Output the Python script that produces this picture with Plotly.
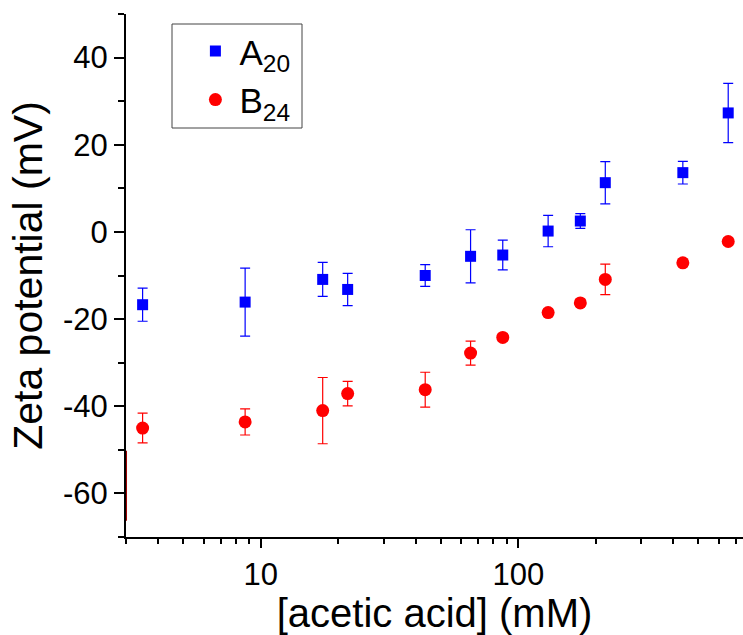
import plotly.graph_objects as go

# acetic acid concentration (mM)
conc_mM = [3.48, 8.7, 17.4, 21.75, 43.5, 65.25, 87, 130.5, 174, 217.5, 435, 652.5]

# zeta potential (mV) and standard deviations
zeta_A20 = [-16.7, -16.1, -10.9, -13.2, -10.0, -5.6, -5.3, 0.2, 2.5, 11.3, 13.6, 27.3]
err_A20 = [3.8, 7.8, 3.9, 3.7, 2.5, 6.1, 3.4, 3.6, 1.7, 4.85, 2.6, 6.8]

zeta_B24 = [-45.0, -43.6, -41.0, -37.1, -36.2, -27.8, -24.2, -18.5, -16.3, -10.9, -7.1, -2.2]
err_B24 = [3.4, 3.0, 7.6, 2.8, 4.0, 2.75, 0.8, 0.8, 0.8, 3.5, 0.8, 0.8]

# clipped error bar remnant at the lower x limit
clip_x = [3, 3]
clip_y = [-50.2, -66.3]

y_tickvals = [-60, -40, -20, 0, 20, 40]
y_ticktext = ["-60", "-40", "-20", "0", "20", "40"]
x_tickvals = [10, 100]
x_ticktext = ["10", "100"]
x_minor = [3, 4, 5, 6, 7, 8, 9, 20, 30, 40, 50, 60, 70, 80, 90, 200, 300, 400, 500, 600, 700]

FONT = "Arial, Liberation Sans, sans-serif"
BLUE = "#0000ff"
RED = "#ff0000"

fig = go.Figure()

fig.add_trace(go.Scatter(
    x=conc_mM, y=zeta_A20, mode="markers",
    name="A<sub>20</sub>",
    marker=dict(symbol="square", size=11, color=BLUE),
    error_y=dict(type="data", array=err_A20, color=BLUE, thickness=1.2, width=5),
))
fig.add_trace(go.Scatter(
    x=conc_mM, y=zeta_B24, mode="markers",
    name="B<sub>24</sub>",
    marker=dict(symbol="circle", size=13, color=RED),
    error_y=dict(type="data", array=err_B24, color=RED, thickness=1.2, width=5),
))
fig.add_trace(go.Scatter(
    x=clip_x, y=clip_y, mode="lines", showlegend=False, hoverinfo="skip",
    line=dict(color="#a00000", width=2), cliponaxis=False,
))

fig.update_layout(
    width=743, height=635,
    margin=dict(l=126, r=0, t=14, b=98),
    paper_bgcolor="white", plot_bgcolor="white",
    font=dict(family=FONT, color="black"),
    showlegend=True,
    legend=dict(
        x=0.106, y=0.985, xanchor="left", yanchor="top",
        bgcolor="rgba(0,0,0,0)", borderwidth=0,
        font=dict(size=35, family=FONT, color="black"),
        itemwidth=38, tracegroupgap=0,
    ),
    shapes=[dict(
        type="rect", xref="paper", yref="paper",
        x0=(172 - 126) / 617, x1=(302 - 126) / 617,
        y0=(537 - 128) / 523, y1=(537 - 24) / 523,
        line=dict(color="#444444", width=1), fillcolor="rgba(0,0,0,0)",
    )],
)

fig.update_xaxes(
    type="log", range=[0.4771, 2.872],
    showline=True, linecolor="black", linewidth=2, mirror=False,
    showgrid=False, zeroline=False,
    tickmode="array", tickvals=x_tickvals, ticktext=x_ticktext,
    ticks="outside", ticklen=9, tickwidth=2, tickcolor="black",
    tickfont=dict(size=31, family=FONT, color="black"),
    minor=dict(tickvals=x_minor, ticks="outside", ticklen=5, tickwidth=2, tickcolor="black", showgrid=False),
    title=dict(text="[acetic acid] (mM)", font=dict(size=40, family=FONT, color="black"), standoff=0),
)
fig.update_yaxes(
    range=[-70, 50],
    showline=True, linecolor="black", linewidth=2, mirror=False,
    showgrid=False, zeroline=False, layer="below traces",
    tickmode="array", tickvals=y_tickvals, ticktext=y_ticktext,
    ticks="outside", ticklen=10, tickwidth=2, tickcolor="black",
    tickfont=dict(size=31, family=FONT, color="black"),
    minor=dict(dtick=10, tick0=-70, ticks="outside", ticklen=6, tickwidth=2, tickcolor="black", showgrid=False),
    title=dict(text="Zeta potential (mV)", font=dict(size=41, family=FONT, color="black"), standoff=8),
)

fig.write_html("out.html")
